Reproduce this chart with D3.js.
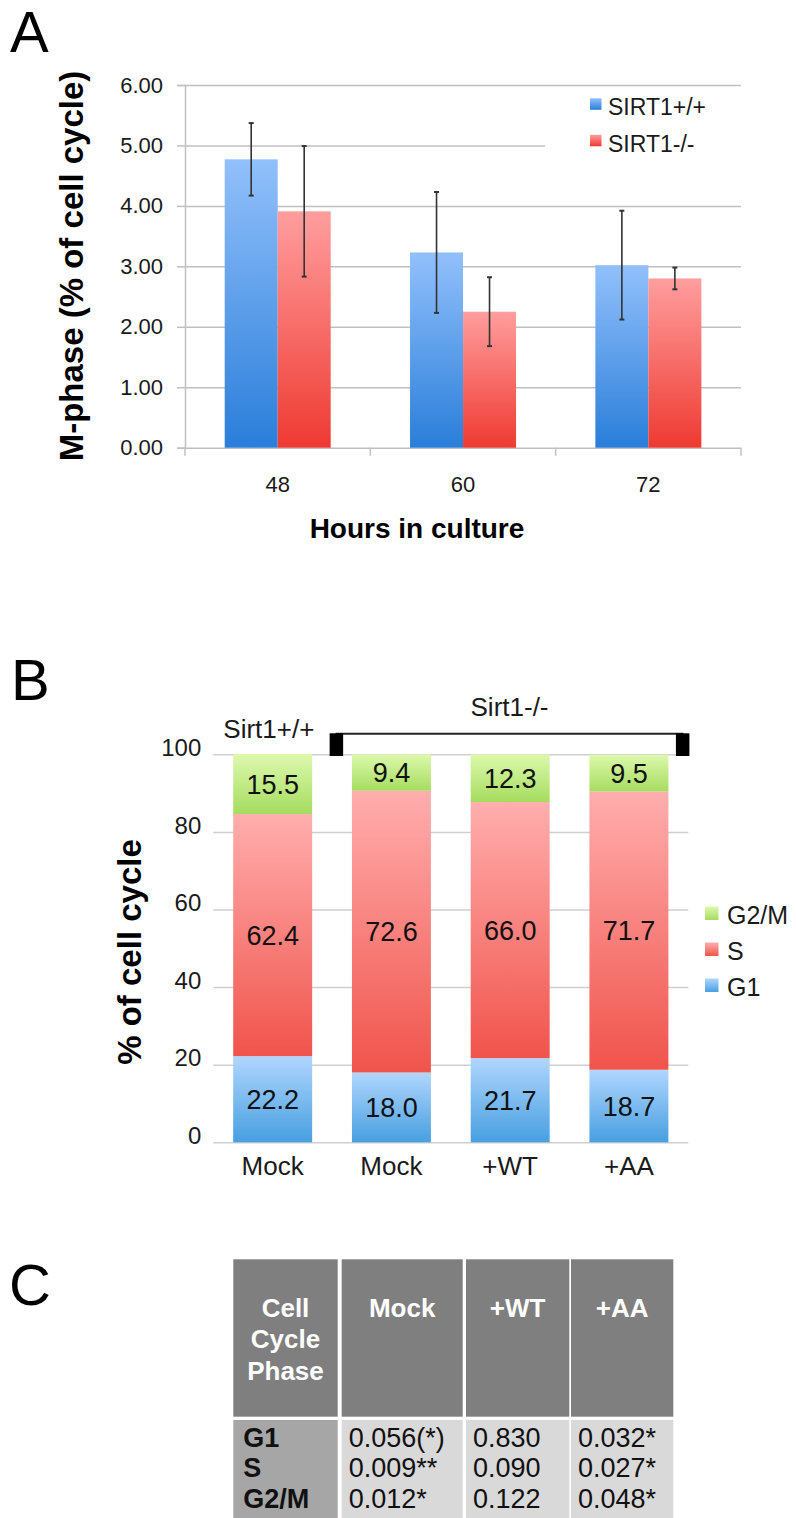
<!DOCTYPE html>
<html>
<head>
<meta charset="utf-8">
<script src="https://cdn.jsdelivr.net/npm/d3@7"></script>
<style>
  body { margin: 0; background: #fff; }
  svg { display: block; font-family: "Liberation Sans", Arial, Helvetica, sans-serif; }
</style>
</head>
<body>
<div id="chart"></div>
<script>
// panel A data
var hours = ["48", "60", "72"];
var seriesA = ["SIRT1+/+", "SIRT1-/-"];
var wtMean = [4.77, 3.23, 3.02];
var wtErr = [0.60, 1.00, 0.90];
var koMean = [3.91, 2.25, 2.80];
var koErr = [1.08, 0.57, 0.18];
var yTicksA = [0, 1, 2, 3, 4, 5, 6];

// panel B data
var groupsB = ["Mock", "Mock", "+WT", "+AA"];
var phases = ["G1", "S", "G2/M"];
var g1Vals = [22.2, 18.0, 21.7, 18.7];
var sVals = [62.4, 72.6, 66.0, 71.7];
var g2mVals = [15.5, 9.4, 12.3, 9.5];
var yTicksB = [0, 20, 40, 60, 80, 100];

// panel C data
var tableHead = [["Cell", "Cycle", "Phase"], ["Mock"], ["+WT"], ["+AA"]];
var rowLabels = ["G1", "S", "G2/M"];
var pMock = ["0.056(*)", "0.009**", "0.012*"];
var pWT = ["0.830", "0.090", "0.122"];
var pAA = ["0.032*", "0.027*", "0.048*"];

var width = 796;
var height = 1518;
var grid = "#c0c0c0";
var ink = "#1a1a1a";

var svg = d3.select("#chart").append("svg").attr("width", width).attr("height", height);
var defs = svg.append("defs");

function grad(id, top, bottom) {
    var g = defs.append("linearGradient").attr("id", id)
        .attr("x1", 0).attr("y1", 0).attr("x2", 0).attr("y2", 1);
    g.append("stop").attr("offset", "0%").attr("stop-color", top);
    g.append("stop").attr("offset", "100%").attr("stop-color", bottom);
}
grad("gA0", "#92c0fb", "#2a7ed9");
grad("gA1", "#ff9e9e", "#ee3a32");
grad("gG1", "#b0d6fe", "#489fe0");
grad("gS", "#ffaeae", "#f0544c");
grad("gG2M", "#ddf9ad", "#a6dc60");

function panelLetter(t, x, y) {
    svg.append("text").attr("x", x).attr("y", y)
        .attr("font-size", "58px").attr("fill", "#000").text(t);
}

// ---------------- A ----------------
panelLetter("A", 10, 52);

var yA = d3.scaleLinear().domain([0, 6]).range([447.7, 85]);
var xA = d3.scaleBand().domain(hours).range([185, 741]);
var x1A = d3.scaleBand().domain(seriesA).range([39.7, 145.7]);

var gA = svg.append("g");

// grid
gA.append("g").attr("transform", "translate(185,0)")
    .call(d3.axisLeft(yA).tickValues(yTicksA).tickSize(-(741 - 185)).tickFormat(""))
    .call(function (g) {
        g.select(".domain").remove();
        g.selectAll("line").attr("stroke", grid).attr("stroke-width", 1.5);
    });

// axis + labels
gA.append("g").attr("transform", "translate(185,0)")
    .call(d3.axisLeft(yA).tickValues(yTicksA).tickSize(8).tickPadding(14).tickFormat(d3.format(".2f")))
    .call(function (g) {
        g.select(".domain").attr("stroke", grid).attr("stroke-width", 1.5);
        g.selectAll("line").attr("stroke", grid).attr("stroke-width", 1.5);
        g.selectAll("text").attr("font-size", "22px").attr("fill", ink)
            .attr("font-family", "Liberation Sans, Arial, sans-serif");
    });

var barsA = hours.map(function (h, i) {
    return [
        {h: h, s: seriesA[0], v: wtMean[i], e: wtErr[i], k: 0},
        {h: h, s: seriesA[1], v: koMean[i], e: koErr[i], k: 1}
    ];
});
var flatA = [].concat.apply([], barsA);

gA.selectAll(".barA").data(flatA).enter().append("rect")
    .attr("class", "barA")
    .attr("x", function (d) { return xA(d.h) + x1A(d.s); })
    .attr("y", function (d) { return yA(d.v); })
    .attr("width", x1A.bandwidth())
    .attr("height", function (d) { return yA(0) - yA(d.v); })
    .attr("fill", function (d) { return "url(#gA" + d.k + ")"; });

// x axis ticks at band edges
var edgeA = hours.map(function (h) { return xA(h); }).concat([741]);
gA.selectAll(".edgeA").data(edgeA).enter().append("line")
    .attr("x1", function (d) { return d; }).attr("x2", function (d) { return d; })
    .attr("y1", yA(0)).attr("y2", yA(0) + 8)
    .attr("stroke", grid).attr("stroke-width", 1.5);

// error bars
var err = gA.selectAll(".errA").data(flatA).enter().append("g");
err.append("line")
    .attr("x1", function (d) { return xA(d.h) + x1A(d.s) + x1A.bandwidth() / 2; })
    .attr("x2", function (d) { return xA(d.h) + x1A(d.s) + x1A.bandwidth() / 2; })
    .attr("y1", function (d) { return yA(d.v + d.e); })
    .attr("y2", function (d) { return yA(d.v - d.e); })
    .attr("stroke", "#333").attr("stroke-width", 1.6);
[1, -1].forEach(function (sg) {
    err.append("line")
        .attr("x1", function (d) { return xA(d.h) + x1A(d.s) + x1A.bandwidth() / 2 - 2.5; })
        .attr("x2", function (d) { return xA(d.h) + x1A(d.s) + x1A.bandwidth() / 2 + 2.5; })
        .attr("y1", function (d) { return yA(d.v + sg * d.e); })
        .attr("y2", function (d) { return yA(d.v + sg * d.e); })
        .attr("stroke", "#333").attr("stroke-width", 2);
});

gA.selectAll(".xlabA").data(hours).enter().append("text")
    .attr("x", function (d) { return xA(d) + xA.bandwidth() / 2; })
    .attr("y", 491.7)
    .attr("text-anchor", "middle").attr("font-size", "22px").attr("fill", ink)
    .text(function (d) { return d; });

gA.append("text").attr("x", 417).attr("y", 538)
    .attr("text-anchor", "middle").attr("font-size", "28px").attr("font-weight", "bold")
    .attr("fill", "#000").text("Hours in culture");

gA.append("text").attr("transform", "translate(83,266) rotate(-90)")
    .attr("text-anchor", "middle").attr("font-size", "33px").attr("font-weight", "bold")
    .attr("fill", "#000").text("M-phase (% of cell cycle)");

// legend A
gA.append("rect").attr("x", 545).attr("y", 90).attr("width", 200).attr("height", 64).attr("fill", "#fff");
var legA = gA.selectAll(".legA").data(seriesA).enter().append("g")
    .attr("transform", function (d, i) { return "translate(590," + (98.3 + i * 36.5) + ")"; });
legA.append("rect").attr("width", 11.5).attr("height", 11.5)
    .attr("fill", function (d, i) { return "url(#gA" + i + ")"; });
legA.append("text").attr("x", 18).attr("y", 17).attr("font-size", "23px").attr("fill", ink)
    .text(function (d) { return d; });

// ---------------- B ----------------
panelLetter("B", 11, 700);

var yB = d3.scaleLinear().domain([0, 100]).range([1142.3, 754.3]);
var xB = d3.scaleBand().domain(d3.range(groupsB.length)).range([213.3, 688.3])
    .paddingInner(0.335).paddingOuter(0.1675);

var gB = svg.append("g");

gB.append("g").attr("transform", "translate(213.3,0)")
    .call(d3.axisLeft(yB).tickValues(yTicksB).tickSize(-(688.3 - 213.3)).tickPadding(12))
    .call(function (g) {
        g.select(".domain").remove();
        g.selectAll("line").attr("stroke", "#cfcfcf").attr("stroke-width", 1.5);
        g.selectAll("text").attr("font-size", "24px").attr("fill", ink).attr("dy", "0.05em")
            .attr("font-family", "Liberation Sans, Arial, sans-serif");
    });

var tableB = groupsB.map(function (g, i) {
    return {i: i, "G1": g1Vals[i], "S": sVals[i], "G2/M": g2mVals[i]};
});
var stackB = d3.stack().keys(phases)(tableB);
var fillB = {"G1": "url(#gG1)", "S": "url(#gS)", "G2/M": "url(#gG2M)"};

var layer = gB.selectAll(".layer").data(stackB).enter().append("g")
    .attr("fill", function (d) { return fillB[d.key]; });

layer.selectAll("rect").data(function (d) { return d; }).enter().append("rect")
    .attr("x", function (d) { return xB(d.data.i); })
    .attr("y", function (d) { return yB(d[1]); })
    .attr("width", xB.bandwidth())
    .attr("height", function (d) { return yB(d[0]) - yB(d[1]); });

layer.selectAll("text").data(function (d) {
    return d.map(function (p) { return {p: p, key: d.key}; });
}).enter().append("text")
    .attr("x", function (d) { return xB(d.p.data.i) + xB.bandwidth() / 2; })
    .attr("y", function (d) { return (yB(d.p[0]) + yB(d.p[1])) / 2; })
    .attr("dy", "0.36em")
    .attr("text-anchor", "middle").attr("font-size", "27px").attr("fill", "#111")
    .text(function (d) { return d3.format(".1f")(d.p.data[d.key]); });

gB.selectAll(".xlabB").data(groupsB).enter().append("text")
    .attr("x", function (d, i) { return xB(i) + xB.bandwidth() / 2; })
    .attr("y", 1175)
    .attr("text-anchor", "middle").attr("font-size", "26px").attr("fill", ink)
    .text(function (d) { return d; });

gB.append("text").attr("transform", "translate(141,952) rotate(-90)")
    .attr("text-anchor", "middle").attr("font-size", "33px").attr("font-weight", "bold")
    .attr("fill", "#000").text("% of cell cycle");

// genotype bracket
var brL = xB(1) - 22.3;
var brR = xB(3) + xB.bandwidth() + 21;
gB.append("line").attr("x1", brL + 6).attr("x2", brR - 6).attr("y1", 733.8).attr("y2", 733.8)
    .attr("stroke", "#222").attr("stroke-width", 2);
gB.selectAll(".brk").data([brL, brR - 13.5]).enter().append("rect")
    .attr("x", function (d) { return d; }).attr("y", 733.3)
    .attr("width", 13.5).attr("height", 22.7).attr("fill", "#000");
gB.append("text").attr("x", 223.3).attr("y", 738.3).attr("font-size", "26px").attr("fill", ink)
    .text("Sirt1+/+");
gB.append("text").attr("x", (brL + brR) / 2).attr("y", 716).attr("text-anchor", "middle")
    .attr("font-size", "26px").attr("fill", ink).text("Sirt1-/-");

// legend B (top to bottom: G2/M, S, G1)
var legOrder = phases.slice().reverse();
var legB = gB.selectAll(".legB").data(legOrder).enter().append("g")
    .attr("transform", function (d, i) { return "translate(705," + (906.5 + i * 36) + ")"; });
legB.append("rect").attr("width", 13.5).attr("height", 13.5)
    .attr("fill", function (d) { return fillB[d]; });
legB.append("text").attr("x", 22).attr("y", 17.8).attr("font-size", "25px").attr("fill", ink)
    .text(function (d) { return d; });

// ---------------- C ----------------
panelLetter("C", 9, 1305);

var colX = [233.3, 341.7, 466, 571];
var colW = [104.4, 121, 103.3, 102.3];
var cellCols = [rowLabels, pMock, pWT, pAA];
var gC = svg.append("g");

gC.selectAll(".hd").data(tableHead).enter().append("rect")
    .attr("x", function (d, i) { return colX[i]; }).attr("y", 1259.3)
    .attr("width", function (d, i) { return colW[i]; }).attr("height", 157.4)
    .attr("fill", "#7f7f7f");
gC.selectAll(".bd").data(cellCols).enter().append("rect")
    .attr("x", function (d, i) { return colX[i]; }).attr("y", 1420)
    .attr("width", function (d, i) { return colW[i]; }).attr("height", 110)
    .attr("fill", function (d, i) { return i === 0 ? "#a6a6a6" : "#d9d9d9"; });

gC.selectAll(".hdt").data(tableHead).enter().append("text")
    .attr("text-anchor", "middle").attr("font-size", "26px").attr("font-weight", "bold")
    .attr("fill", "#fff")
    .each(function (d, i) {
        var t = d3.select(this);
        d.forEach(function (line, j) {
            t.append("tspan").attr("x", colX[i] + colW[i] / 2).attr("y", 1316.7 + j * 31.7).text(line);
        });
    });

gC.selectAll(".bdt").data(cellCols).enter().append("text")
    .attr("font-size", "27px").attr("fill", "#111")
    .attr("font-weight", function (d, i) { return i === 0 ? "bold" : "normal"; })
    .each(function (d, i) {
        var t = d3.select(this);
        d.forEach(function (v, j) {
            t.append("tspan").attr("x", colX[i] + (i === 0 ? 10 : 7)).attr("y", 1446.7 + j * 30.7).text(v);
        });
    });
</script>
</body>
</html>
